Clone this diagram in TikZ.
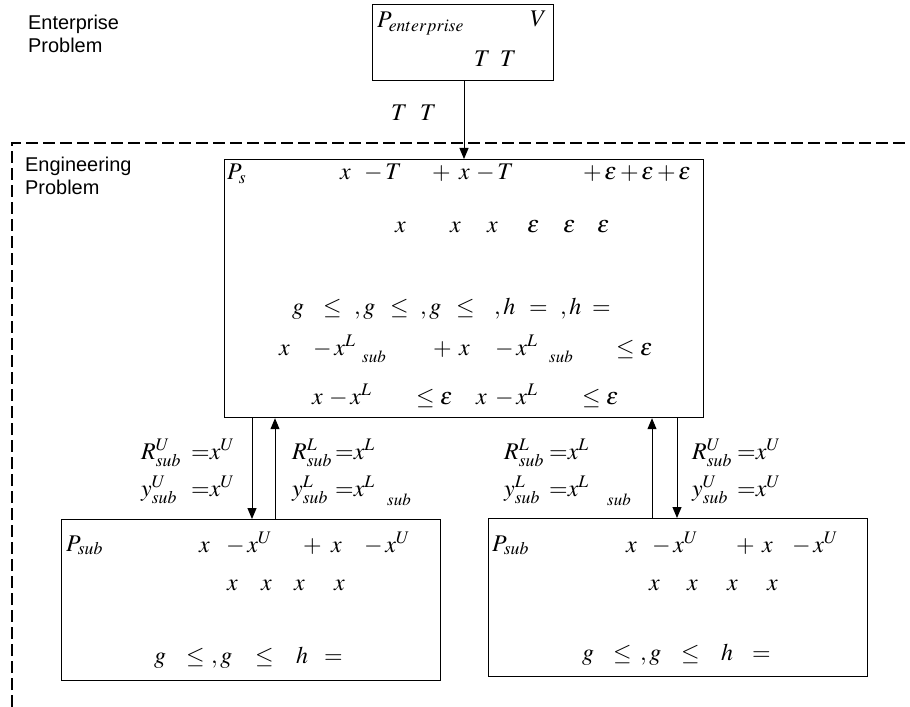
\documentclass[tikz,border=0pt]{standalone}
\usepackage{mathptmx}
\usepackage[no-math]{fontspec}
\setmainfont{Liberation Serif}
\setsansfont{Liberation Sans}
\usetikzlibrary{arrows.meta}
\tikzset{
  box/.style={draw, line width=1.2bp, inner sep=0pt, anchor=north west},
  m/.style={anchor=base west, inner sep=0pt, font=\fontsize{24}{28}\selectfont},
  ms/.style={anchor=base west, inner sep=0pt, font=\fontsize{17}{20}\selectfont},
  lab/.style={anchor=base west, inner sep=0pt, font=\sffamily\fontsize{20}{23}\selectfont},
  arr/.style={line width=1bp, -{Triangle[length=11bp,width=9bp]}},
  frameline/.style={line width=1.3bp, dash pattern=on 12bp off 5bp}
}
\begin{document}
\begin{tikzpicture}[x=1bp,y=-1bp]
\useasboundingbox (0,0) rectangle (910,707);
% open dashed frame
\coordinate (fa) at (12,707);
\coordinate (fb) at (12,143);
\coordinate (fc) at (910,143);
\draw[frameline] (fa) -- (fb) -- (fc);
% boxes
\node[box, minimum width=181bp, minimum height=76bp] (ent) at (372,4) {};
\node[box, minimum width=479bp, minimum height=258bp] (ps) at (224,159) {};
\node[box, minimum width=379bp, minimum height=161bp] (subL) at (61,519) {};
\node[box, minimum width=379bp, minimum height=158bp] (subR) at (488,518) {};
% arrows
\coordinate (c0) at (464,0);
\coordinate (c1) at (252,0);
\coordinate (c2) at (275,0);
\coordinate (c3) at (652,0);
\coordinate (c4) at (677,0);
\draw[arr] (ent.south -| c0) -- (ps.north -| c0);
\draw[arr] (ps.south -| c1) -- (subL.north -| c1);
\draw[arr] (subL.north -| c2) -- (ps.south -| c2);
\draw[arr] (subR.north -| c3) -- (ps.south -| c3);
\draw[arr] (ps.south -| c4) -- (subR.north -| c4);
% side labels
\node[lab] (e1) at (28,30) {Enterprise};
\node[lab] (e2) at (28,53) {Problem};
\node[lab] (g1) at (25,172) {Engineering};
\node[lab] (g2) at (25,194) {Problem};
% enterprise box
\foreach \px/\py/\txt [count=\i] in {377/28/{P_{enterprise}}, 530/27/V, 474/67/T, 500/67/T, 391/121/T, 420/121/T}
  \node[m] (en\i) at (\px,\py) {$\txt$};
% P_s box
\foreach \px/\py/\txt [count=\i] in {
  227/180/{P_s}, 340/180/x, 364/180/{-\,T}, 432/180/{+}, 459/180/x, 476/180/{-\,T},
  583/180/{+\,\varepsilon}, 620/180/{+\,\varepsilon}, 657/180/{+\,\varepsilon},
  395/232/x, 450/232/x, 487/232/x, 527/232/\varepsilon, 563/232/\varepsilon, 597/232/\varepsilon,
  292/314/g, 323/314/\leq, 354/314/{,g}, 390/314/\leq, 420/314/{,g}, 456/314/\leq,
  494/314/{,h}, 529/314/{=}, 560/314/{,h}, 592/314/{=},
  279/355/x, 313/355/{-\,x^{L}}, 433/355/{+}, 459/355/x, 495/355/{-\,x^{L}}, 616/355/{\leq\varepsilon},
  312/404/x, 329/404/{-\,x^{L}}, 416/404/{\leq\varepsilon}, 476/404/x, 495/404/{-\,x^{L}}, 582/404/{\leq\varepsilon}}
  \node[m] (ps\i) at (\px,\py) {$\txt$};
\foreach \px/\py [count=\i] in {362/362, 549/362, 387/505, 607/505}
  \node[ms] (sb\i) at (\px,\py) {$sub$};
% link labels
\foreach \px/\py/\txt [count=\i] in {
  141/459/{R^{U}_{sub}}, 191/459/{{=}x^{U}}, 141/496/{y^{U}_{sub}}, 191/496/{{=}x^{U}},
  292/459/{R^{L}_{sub}}, 335/459/{{=}x^{L}}, 292/496/{y^{L}_{sub}}, 335/496/{{=}x^{L}},
  504/459/{R^{L}_{sub}}, 549/459/{{=}x^{L}}, 504/496/{y^{L}_{sub}}, 549/496/{{=}x^{L}},
  692/459/{R^{U}_{sub}}, 737/459/{{=}x^{U}}, 692/496/{y^{U}_{sub}}, 737/496/{{=}x^{U}}}
  \node[m] (lk\i) at (\px,\py) {$\txt$};
% left sub box
\foreach \px/\py/\txt [count=\i] in {
  66/551/{P_{sub}}, 199/552/x, 226/552/{-\,x^{U}}, 303/552/{+}, 331/552/x, 364/552/{-\,x^{U}},
  227/590/x, 261/590/x, 294/590/x, 334/590/x,
  154/663/g, 186/663/\leq, 211/663/{,g}, 255/663/\leq, 296/663/h, 324/663/{=}}
  \node[m] (sl\i) at (\px,\py) {$\txt$};
% right sub box
\foreach \px/\py/\txt [count=\i] in {
  492/551/{P_{sub}}, 626/552/x, 652/552/{-\,x^{U}}, 736/552/{+}, 762/552/x, 792/552/{-\,x^{U}},
  649/590/x, 687/590/x, 727/590/x, 767/590/x,
  582/660/g, 613/660/\leq, 640/660/{,g}, 681/660/\leq, 721/660/h, 752/660/{=}}
  \node[m] (sr\i) at (\px,\py) {$\txt$};
\end{tikzpicture}
\end{document}
